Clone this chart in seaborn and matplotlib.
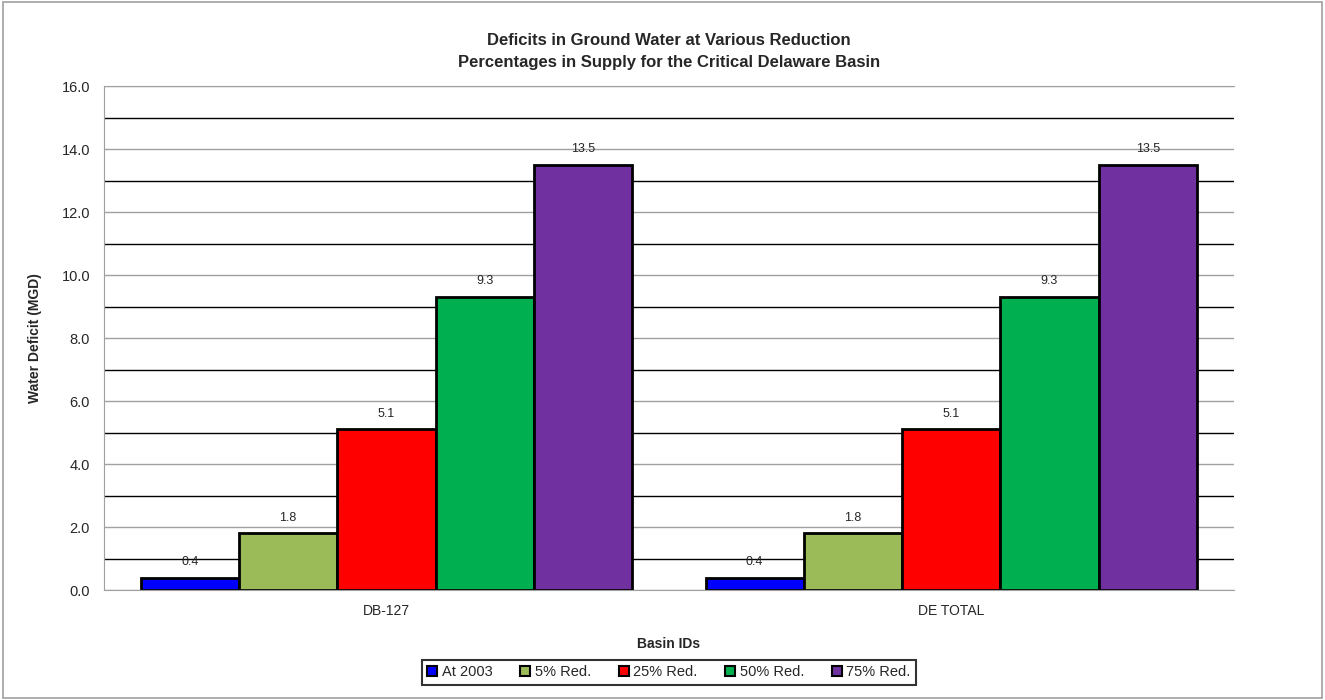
import pandas as pd
import seaborn as sns
import matplotlib.pyplot as plt
from matplotlib.ticker import MultipleLocator

# chart values
basins = ["DB-127", "DE TOTAL"]
scenarios = ["At 2003", "5% Red.", "25% Red.", "50% Red.", "75% Red."]
db127 = [0.4, 1.8, 5.1, 9.3, 13.5]
detotal = [0.4, 1.8, 5.1, 9.3, 13.5]
colors = ["#0000FF", "#9BBB59", "#FF0000", "#00B050", "#7030A0"]

data = pd.DataFrame({
    "basin": [basins[0]] * 5 + [basins[1]] * 5,
    "scenario": scenarios * 2,
    "deficit": db127 + detotal,
})

sns.set_style("white")
plt.rcParams['font.family'] = ['Liberation Sans', 'DejaVu Sans']

fig = plt.figure(figsize=(13.25, 7), dpi=100)
ax = fig.add_axes([0.0785, 0.157, 0.8525, 0.72])

sns.barplot(data=data, x="basin", y="deficit", hue="scenario",
            hue_order=scenarios, palette=colors, width=0.87,
            edgecolor="black", linewidth=2, saturation=1, ax=ax)

for cont in ax.containers:
    ax.bar_label(cont, fmt="%.1f", padding=7, fontsize=9)

ax.set_ylim(0, 16)
ax.set_xlim(-0.5, 1.5)
ax.yaxis.set_major_locator(MultipleLocator(2))
ax.yaxis.set_minor_locator(MultipleLocator(1))
ax.yaxis.set_major_formatter(plt.FormatStrFormatter("%.1f"))
ax.grid(axis="y", which="major", color="#A0A0A0", linewidth=1)
ax.grid(axis="y", which="minor", color="black", linewidth=1)
ax.set_axisbelow(True)
ax.tick_params(axis="y", which="major", length=4, color="#A0A0A0", labelsize=10.5, pad=6)
ax.tick_params(axis="y", which="minor", length=0)
ax.tick_params(axis="x", length=0, labelsize=10, pad=10)

for side in ["left", "bottom", "top"]:
    ax.spines[side].set_color("#A0A0A0")
ax.spines["right"].set_visible(False)

ax.set_title("Deficits in Ground Water at Various Reduction\nPercentages in Supply for the Critical Delaware Basin",
             fontsize=12, fontweight="bold", pad=14, linespacing=1.55)
ax.set_xlabel("Basin IDs", fontsize=10, fontweight="bold", labelpad=14)
ax.set_ylabel("Water Deficit (MGD)", fontsize=10, fontweight="bold", labelpad=14)

leg = ax.legend(loc="upper center", bbox_to_anchor=(0.5, -0.125), ncol=5,
                frameon=True, fontsize=10.5, handlelength=0.7, handleheight=0.7,
                handletextpad=0.3, columnspacing=1.9, borderpad=0.35, fancybox=False)
leg.get_frame().set_edgecolor("black")
leg.get_frame().set_linewidth(1.5)
for h in leg.legend_handles:
    h.set_linewidth(1.5)

fig.patches.append(plt.Rectangle((0.002, 0.003), 0.996, 0.994, transform=fig.transFigure,
                                 fill=False, edgecolor="#A0A0A0", linewidth=1.2))

plt.savefig("out.png", dpi=100)
